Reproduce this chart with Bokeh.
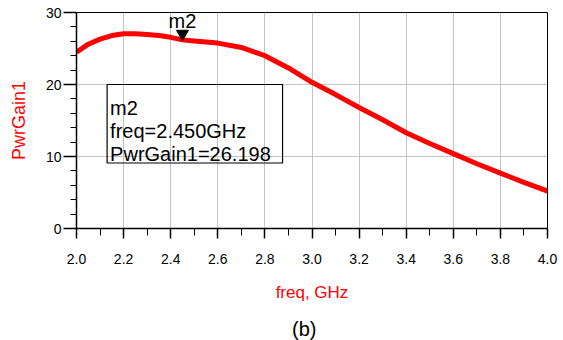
from bokeh.plotting import figure
from bokeh.models import Label, BoxAnnotation, FixedTicker, Range1d, Div
from bokeh.layouts import column
from bokeh.embed import file_html
from bokeh.resources import INLINE

freq = [2.0, 2.05, 2.1, 2.15, 2.2, 2.25, 2.3, 2.35, 2.4, 2.45, 2.5, 2.6, 2.7, 2.8,
        2.9, 3.0, 3.1, 3.2, 3.3, 3.4, 3.5, 3.6, 3.7, 3.8, 3.9, 4.0]
gain = [24.5, 25.6, 26.3, 26.8, 27.05, 27.05, 26.95, 26.8, 26.55, 26.198, 26.05, 25.75, 25.15, 24.0,
        22.3, 20.3, 18.6, 16.8, 15.1, 13.3, 11.8, 10.4, 9.0, 7.7, 6.4, 5.2]
x_ticks = [2.0, 2.2, 2.4, 2.6, 2.8, 3.0, 3.2, 3.4, 3.6, 3.8, 4.0]
y_ticks = [0, 10, 20, 30]
m2_freq = 2.45
m2_val = 26.198
marker_lines = ["m2", "freq=2.450GHz", "PwrGain1=26.198"]
caption = "(b)"

FONT = "Liberation Sans"

fig = figure(width=557, height=310, output_backend="svg", toolbar_location=None,
             x_range=Range1d(2.0, 4.0), y_range=Range1d(0, 30),
             min_border_left=76, min_border_right=10, min_border_top=12, min_border_bottom=82)
fig.outline_line_color = "black"
fig.outline_line_width = 1
fig.background_fill_color = "white"

fig.xaxis.ticker = FixedTicker(ticks=x_ticks, minor_ticks=[round(2.0 + 0.1 * i, 2) for i in range(21)])
fig.yaxis.ticker = FixedTicker(ticks=y_ticks, minor_ticks=list(range(0, 31, 2)))
fig.xaxis.major_label_overrides = {t: f"{t:.1f}" for t in x_ticks}

for ax in (fig.xaxis[0], fig.yaxis[0]):
    ax.axis_line_color = "black"
    ax.axis_line_width = 1.5
    ax.major_tick_line_color = "black"
    ax.major_tick_line_width = 1.5
    ax.minor_tick_line_color = "black"
    ax.minor_tick_line_width = 1
    ax.major_tick_in = 0
    ax.minor_tick_in = 0
    ax.major_label_text_font = FONT
    ax.major_label_text_font_size = "14px"
    ax.major_label_text_color = "black"
    ax.axis_label_text_font = FONT
    ax.axis_label_text_font_style = "normal"
    ax.axis_label_text_color = "red"

fig.xaxis.major_tick_out = 10
fig.xaxis.minor_tick_out = 7
fig.xaxis.major_label_standoff = 15
fig.xaxis.axis_label = "freq, GHz"
fig.xaxis.axis_label_text_font_size = "17px"
fig.xaxis.axis_label_standoff = 16

fig.yaxis.major_tick_out = 13
fig.yaxis.minor_tick_out = 6
fig.yaxis.major_label_standoff = 2
fig.yaxis.axis_label = "PwrGain1"
fig.yaxis.axis_label_text_font_size = "18px"
fig.yaxis.axis_label_standoff = 14

fig.xgrid.grid_line_color = "#c4c4c4"
fig.ygrid.grid_line_color = "#c4c4c4"
fig.xgrid.grid_line_width = 1
fig.ygrid.grid_line_width = 1

fig.line(freq, gain, line_color="red", line_width=5)

# marker m2
fig.scatter([m2_freq], [m2_val + 0.85], marker="inverted_triangle", size=12,
            fill_color="black", line_color="black")
fig.add_layout(Label(x=m2_freq, y=m2_val, y_offset=19, text="m2", text_align="center",
                     text_baseline="alphabetic", text_font=FONT, text_font_size="20px",
                     text_color="black"))

# marker readout box
fig.add_layout(BoxAnnotation(left=2.13, right=2.875, bottom=9.1, top=20.0,
                             fill_alpha=0, line_color="black", line_alpha=1.0,
                             line_width=1.2, level="overlay"))
for i, t in enumerate(marker_lines):
    fig.add_layout(Label(x=2.13, y=20.0, x_offset=3, y_offset=-23 - 23 * i, text=t,
                         text_align="left", text_baseline="alphabetic", text_font=FONT,
                         text_font_size="20px", text_color="black"))

cap = Div(text=('<div style="position:absolute; left:287px; top:3px; '
                'font-family:\'Liberation Sans\'; font-size:20px; line-height:22px; '
                'font-weight:normal; color:black; white-space:nowrap;">' + caption + '</div>'),
          width=557, height=30)

p = column(fig, cap, spacing=0)

open("out.html", "w").write(file_html(p, INLINE))
